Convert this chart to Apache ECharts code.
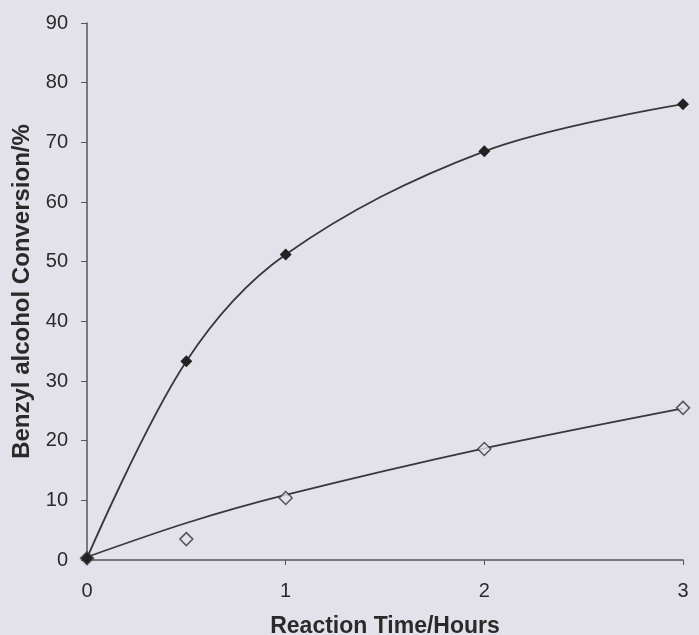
<!DOCTYPE html>
<html>
<head>
<meta charset="utf-8">
<script src="https://cdn.jsdelivr.net/npm/echarts@6/dist/echarts.min.js"></script>
<style>
html,body{margin:0;padding:0;background:#e3e2eb;}
#c{width:699px;height:635px;}
</style>
</head>
<body>
<div id="c"></div>
<script>
// Reaction time (hours)
const timeHours = [0, 0.5, 1, 2, 3];
// Filled diamonds
const filledConversion = [0.3, 33.3, 51.2, 68.5, 76.4];
// Open diamonds
const openConversion = [0.3, 3.5, 10.4, 18.6, 25.5];
// Trend line
const openTrendTime = [0, 0.5, 1, 2, 3];
const openTrendValues = [0.5, 6.2, 10.9, 18.7, 25.4];
const yTicks = [0, 10, 20, 30, 40, 50, 60, 70, 80, 90];
const xTicks = [0, 1, 2, 3];

const zip = (xs, ys) => xs.map((x, i) => [x, ys[i]]);
const font = '"Liberation Sans", Arial, sans-serif';

const chart = echarts.init(document.getElementById('c'), null, {renderer: 'canvas'});
chart.setOption({
  backgroundColor: '#e3e2eb',
  animation: false,
  grid: {left: 87, right: 16, top: 23, bottom: 75, containLabel: false, outerBoundsMode: 'none'},
  xAxis: {
    type: 'value', min: xTicks[0], max: xTicks[xTicks.length - 1], interval: 1,
    name: 'Reaction Time/Hours', nameLocation: 'middle', nameGap: 55,
    nameTextStyle: {fontFamily: font, fontWeight: 'bold', fontSize: 23, color: '#2a2a2a'},
    axisLine: {lineStyle: {color: '#555', width: 1.5}},
    axisTick: {show: true, inside: false, length: 5, lineStyle: {color: '#555'}},
    axisLabel: {fontFamily: font, fontSize: 20, color: '#2a2a2a', margin: 21},
    splitLine: {show: false}
  },
  yAxis: {
    type: 'value', min: yTicks[0], max: yTicks[yTicks.length - 1], interval: 10,
    name: 'Benzyl alcohol Conversion/%', nameLocation: 'middle', nameGap: 52,
    nameTextStyle: {fontFamily: font, fontWeight: 'bold', fontSize: 24, color: '#2a2a2a'},
    axisLine: {show: true, lineStyle: {color: '#555', width: 1.5}},
    axisTick: {show: true, inside: false, length: 6, lineStyle: {color: '#555'}},
    axisLabel: {fontFamily: font, fontSize: 20, color: '#2a2a2a', margin: 19},
    splitLine: {show: false}
  },
  series: [
    {
      type: 'line', data: zip(timeHours, filledConversion), smooth: 0.35,
      symbol: 'diamond', symbolSize: 12,
      itemStyle: {color: '#222'},
      lineStyle: {color: '#383838', width: 1.8}, z: 5
    },
    {
      type: 'line', data: zip(openTrendTime, openTrendValues), smooth: 0.3,
      showSymbol: false, symbol: 'none',
      lineStyle: {color: '#383838', width: 1.8}, z: 2
    },
    {
      type: 'scatter', data: zip(timeHours, openConversion),
      symbol: 'diamond', symbolSize: 13,
      itemStyle: {color: '#e3e2eb', borderColor: '#333', borderWidth: 1.5}, z: 4
    }
  ]
});
</script>
</body>
</html>
